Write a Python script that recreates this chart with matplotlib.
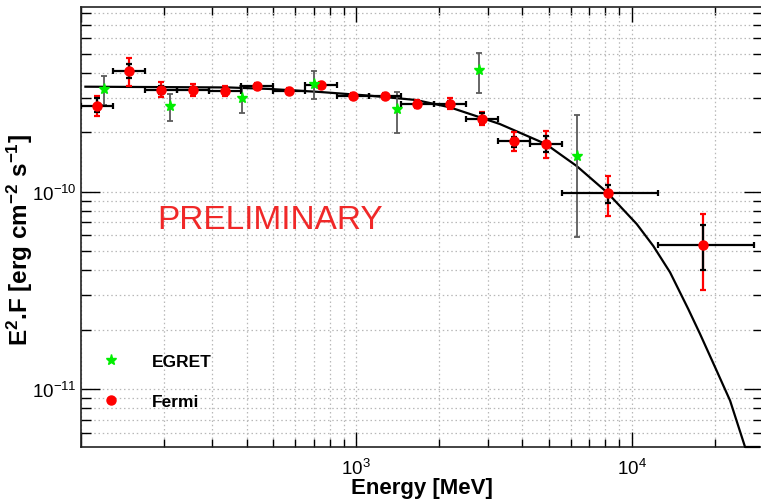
import numpy as np
import matplotlib
matplotlib.use("Agg")
import matplotlib.pyplot as plt
from matplotlib.lines import Line2D
from matplotlib.ticker import FixedLocator, NullFormatter, LogFormatterSciNotation

plt.rcParams['font.family'] = ['Liberation Sans', 'DejaVu Sans']
plt.rcParams['mathtext.fontset'] = 'custom'
plt.rcParams['mathtext.rm'] = 'Liberation Sans'
plt.rcParams['mathtext.it'] = 'Liberation Sans:italic'
plt.rcParams['mathtext.bf'] = 'Liberation Sans:bold'

# Fermi spectral points: energy [MeV] with bin edges, E^2 F [erg cm^-2 s^-1]
fermi_e = [114.3, 149.5, 195.4, 255.5, 334, 436.8, 571, 746.5, 976, 1276,
           1668, 2181, 2851, 3727, 4873, 8200, 18200]
fermi_e_lo = [100, 130.7, 171, 223, 292, 382, 499, 653, 853, 1116,
              1459, 1907, 2494, 3260, 4262, 5572, 12450]
fermi_e_hi = [130.7, 171, 223, 292, 382, 499, 653, 853, 1116, 1459,
              1907, 2494, 3260, 4262, 5572, 12450, 27820]
fermi_f = [2.72e-10, 4.08e-10, 3.29e-10, 3.27e-10, 3.25e-10, 3.43e-10, 3.24e-10,
           3.46e-10, 3.06e-10, 3.04e-10, 2.79e-10, 2.79e-10, 2.34e-10, 1.81e-10,
           1.74e-10, 9.81e-11, 5.39e-11]
# total (stat + syst) range
fermi_tot_lo = [2.41e-10, 3.45e-10, 3.01e-10, 3.05e-10, 3.07e-10, 3.30e-10, 3.13e-10,
                3.34e-10, 2.95e-10, 2.94e-10, 2.66e-10, 2.63e-10, 2.18e-10, 1.60e-10,
                1.49e-10, 7.55e-11, 3.18e-11]
fermi_tot_hi = [3.07e-10, 4.76e-10, 3.59e-10, 3.51e-10, 3.45e-10, 3.57e-10, 3.36e-10,
                3.58e-10, 3.17e-10, 3.15e-10, 2.92e-10, 2.97e-10, 2.54e-10, 2.00e-10,
                2.02e-10, 1.205e-10, 7.70e-11]
# statistical range
fermi_stat_lo = [2.54e-10, 3.76e-10, 3.14e-10, 3.16e-10, 3.16e-10, 3.35e-10, 3.17e-10,
                 3.38e-10, 2.99e-10, 2.97e-10, 2.71e-10, 2.69e-10, 2.22e-10, 1.685e-10,
                 1.58e-10, 8.76e-11, 4.025e-11]
fermi_stat_hi = [2.99e-10, 4.42e-10, 3.45e-10, 3.39e-10, 3.34e-10, 3.51e-10, 3.32e-10,
                 3.54e-10, 3.13e-10, 3.11e-10, 2.87e-10, 2.89e-10, 2.50e-10, 1.90e-10,
                 1.92e-10, 1.085e-10, 6.78e-11]

# EGRET points
egret_e = [121.5, 211, 384, 704, 1404, 2791, 6310]
egret_f = [3.32e-10, 2.73e-10, 2.97e-10, 3.52e-10, 2.63e-10, 4.12e-10, 1.52e-10]
egret_lo = [2.75e-10, 2.28e-10, 2.51e-10, 2.95e-10, 1.98e-10, 3.16e-10, 5.91e-11]
egret_hi = [3.85e-10, 3.13e-10, 3.45e-10, 4.08e-10, 3.21e-10, 5.05e-10, 2.45e-10]

# fitted spectral model
model_e = [102.8, 346, 484, 735, 1118, 1643, 2184, 2808, 3320, 4873, 6310, 8153,
           10430, 11980, 13790, 16060, 17720, 20090, 22780, 25820, 29280]
model_f = [3.405e-10, 3.374e-10, 3.316e-10, 3.202e-10, 3.066e-10, 2.916e-10, 2.678e-10,
           2.383e-10, 2.203e-10, 1.745e-10, 1.35e-10, 9.9e-11, 6.86e-11, 5.31e-11,
           3.90e-11, 2.54e-11, 1.90e-11, 1.29e-11, 8.73e-12, 5.08e-12, 2.77e-12]

xmin, xmax = 100, 3.0e4
ymin, ymax = 5.08e-12, 8.63e-10

W, H = 761, 502
fig = plt.figure(figsize=(W / 100, H / 100), dpi=100)
ax = fig.add_axes([81 / W, (H - 448) / H, 682 / W, 440 / H])
ax.set_xscale('log')
ax.set_yscale('log')
ax.set_xlim(xmin, xmax)
ax.set_ylim(ymin, ymax)

# model curve, held on the lower frame edge where it drops out
ax.plot(model_e, np.clip(model_f, ymin, None), color='black', lw=1.6, zorder=3,
        clip_on=False, solid_capstyle='butt', solid_joinstyle='round')

f = np.array(fermi_f)
e = np.array(fermi_e)
ax.errorbar(e, f, yerr=[f - np.array(fermi_tot_lo), np.array(fermi_tot_hi) - f],
            fmt='none', ecolor='red', elinewidth=1.6, capsize=2.5, capthick=1.6, zorder=4)
ax.errorbar(e, f, xerr=[e - np.array(fermi_e_lo), np.array(fermi_e_hi) - e],
            yerr=[f - np.array(fermi_stat_lo), np.array(fermi_stat_hi) - f],
            fmt='none', ecolor='black', elinewidth=1.6, capsize=2.5, capthick=1.6, zorder=5)
ax.plot(e, f, 'o', color='red', ms=6.5, mec='red', zorder=6)

g = np.array(egret_f)
ax.errorbar(egret_e, g, yerr=[g - np.array(egret_lo), np.array(egret_hi) - g],
            fmt='none', ecolor='#5a5a5a', elinewidth=1.3, capsize=2.5, capthick=1.3, zorder=4)
ax.plot(egret_e, g, '*', color='#00ee00', mec='#00ee00', ms=8, zorder=6)

# ticks and grid
ax.xaxis.set_major_locator(FixedLocator([1e2, 1e3, 1e4]))
ax.xaxis.set_minor_locator(FixedLocator([m * 10.0 ** k for k in (2, 3, 4) for m in range(2, 10)]))
ax.yaxis.set_major_locator(FixedLocator([1e-11, 1e-10]))
ax.yaxis.set_minor_locator(FixedLocator([m * 10.0 ** k for k in (-12, -11, -10) for m in range(2, 10)]))
ax.xaxis.set_major_formatter(LogFormatterSciNotation())
ax.yaxis.set_major_formatter(LogFormatterSciNotation())
ax.xaxis.set_minor_formatter(NullFormatter())
ax.yaxis.set_minor_formatter(NullFormatter())
plt.setp(ax.get_xticklabels()[0], visible=False)

ax.tick_params(which='both', direction='in', top=True, right=True, colors='black')
ax.tick_params(axis='x', which='major', length=11, width=1, labelsize=13.5, pad=8)
ax.tick_params(axis='x', which='minor', length=6, width=1)
ax.tick_params(axis='y', which='major', length=14, width=1, labelsize=13.5, pad=3)
ax.tick_params(axis='y', which='minor', length=7, width=1)
ax.grid(which='both', color='#b8b8b8', linestyle=(0, (1.2, 2.2)), linewidth=0.9)
ax.set_axisbelow(True)
for s in ax.spines.values():
    s.set_linewidth(1.2)
    s.set_color('#222222')

ax.set_xlabel('Energy [MeV]', fontsize=16, fontweight='bold')
ax.xaxis.set_label_coords(0.5, -0.068)
ax.set_ylabel(r'E$^{\mathbf{2}}$.F [erg cm$^{\mathbf{-2}}$ s$^{\mathbf{-1}}$]',
              fontsize=17.5, fontweight='bold')
ax.yaxis.set_label_coords(-0.067, 0.473)

ax.text(0.2775, 0.516, 'PRELIMINARY', transform=ax.transAxes, color='#f02828',
        fontsize=24, ha='center', va='center')

handles = [Line2D([], [], ls='none', marker='*', color='#00ee00', ms=8),
           Line2D([], [], ls='none', marker='o', color='red', ms=6.5)]
ax.legend(handles, ['EGRET', 'Fermi'], loc='upper left', bbox_to_anchor=(0.018, 0.212),
          frameon=False, borderpad=0, borderaxespad=0, handlelength=2.0,
          handletextpad=1.35, labelspacing=1.45, prop={'weight': 'bold', 'size': 12.5})

fig.savefig('out.png', dpi=100)
